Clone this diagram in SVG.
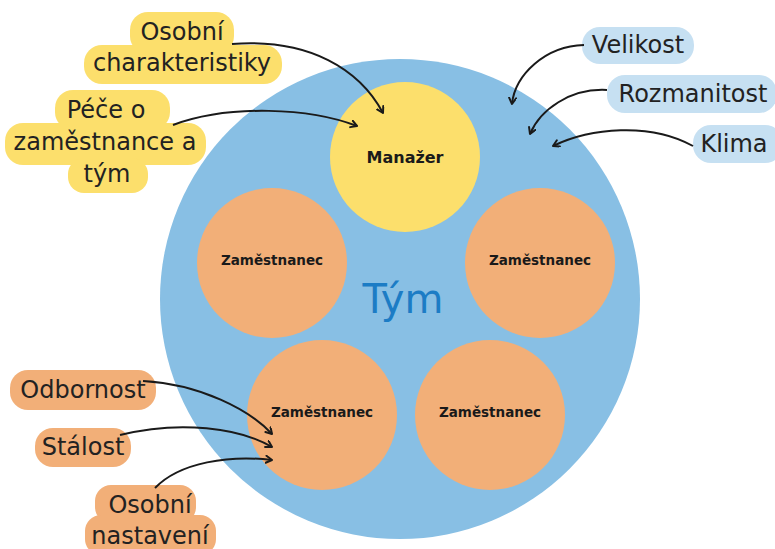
<svg xmlns="http://www.w3.org/2000/svg" width="775" height="549" viewBox="0 0 775 549">
<style>
.lbl{font-family:"DejaVu Sans",sans-serif;font-size:24px;fill:#222;text-anchor:middle}
.node{font-family:"DejaVu Sans",sans-serif;font-weight:bold;font-size:13.5px;fill:#1a1a1a;text-anchor:middle}
.big{font-size:16px}
.y{fill:#FCDF6C}
.o{fill:#F2AF78}
.b{fill:#C6E0F2}
.arr{fill:none;stroke:#1a1a1a;stroke-width:2;marker-end:url(#ah)}
</style>
<defs>
<marker id="ah" markerWidth="10" markerHeight="10" refX="7" refY="4" orient="auto" markerUnits="userSpaceOnUse">
<path d="M1,0.5 L7,4 L1,7.5" fill="none" stroke="#1a1a1a" stroke-width="2" stroke-linecap="round" stroke-linejoin="round"/>
</marker>
</defs>
<rect width="775" height="549" fill="#fff"/>
<g id="tym">
<circle cx="400" cy="299" r="240" fill="#88BFE4"/>
<text x="403" y="313" font-family="DejaVu Sans,sans-serif" font-size="40" fill="#1C7CC5" text-anchor="middle">Tým</text>
</g>
<g id="manazer">
<circle cx="405" cy="157" r="75" class="y"/>
<text x="405" y="163" class="node big">Manažer</text>
</g>
<g id="zam1">
<circle cx="272" cy="263" r="75" class="o"/>
<text x="272" y="265" class="node">Zaměstnanec</text>
</g>
<g id="zam2">
<circle cx="540" cy="263" r="75" class="o"/>
<text x="540" y="265" class="node">Zaměstnanec</text>
</g>
<g id="zam3">
<circle cx="322" cy="415" r="75" class="o"/>
<text x="322" y="417" class="node">Zaměstnanec</text>
</g>
<g id="zam4">
<circle cx="490" cy="415" r="75" class="o"/>
<text x="490" y="417" class="node">Zaměstnanec</text>
</g>
<g id="osobni-char">
<rect x="130" y="12" width="104" height="42" rx="18" class="y"/>
<rect x="84" y="45" width="198" height="39" rx="18" class="y"/>
<text x="182" y="40" class="lbl">Osobní</text>
<text x="182" y="71" class="lbl">charakteristiky</text>
</g>
<g id="pece">
<rect x="55" y="90" width="115" height="40" rx="18" class="y"/>
<rect x="5" y="123" width="201" height="42" rx="18" class="y"/>
<rect x="68" y="158" width="80" height="35" rx="16" class="y"/>
<text x="106" y="118" class="lbl">Péče o</text>
<text x="105" y="150" class="lbl">zaměstnance a</text>
<text x="107" y="182" class="lbl">tým</text>
</g>
<g id="velikost">
<rect x="582" y="27" width="112" height="37" rx="18" class="b"/>
<text x="638" y="53" class="lbl">Velikost</text>
</g>
<g id="rozmanitost">
<rect x="607" y="75" width="170" height="38" rx="18" class="b"/>
<text x="693" y="102" class="lbl">Rozmanitost</text>
</g>
<g id="klima">
<rect x="693" y="125" width="90" height="38" rx="18" class="b"/>
<text x="734" y="152" class="lbl">Klima</text>
</g>
<g id="odbornost">
<rect x="10" y="370" width="146" height="40" rx="18" class="o"/>
<text x="83" y="398" class="lbl">Odbornost</text>
</g>
<g id="stalost">
<rect x="35" y="428" width="96" height="39" rx="18" class="o"/>
<text x="83" y="455" class="lbl">Stálost</text>
</g>
<g id="osobni-nast">
<rect x="95" y="485" width="101" height="38" rx="16" class="o"/>
<rect x="85" y="515" width="131" height="40" rx="16" class="o"/>
<text x="150" y="513" class="lbl">Osobní</text>
<text x="150" y="544" class="lbl">nastavení</text>
</g>
<g id="connectors">
<path class="arr" d="M232,44 C310,38 360,70 383,113"/>
<path class="arr" d="M173,125 C230,104 310,108 357,126"/>
<path class="arr" d="M584,45 C545,46 515,75 512,104"/>
<path class="arr" d="M607,90 C570,88 540,110 530,134"/>
<path class="arr" d="M693,146 C650,122 590,128 553,146"/>
<path class="arr" d="M143,381 C200,384 250,410 272,434"/>
<path class="arr" d="M120,435 C180,420 240,428 272,447"/>
<path class="arr" d="M155,488 C180,462 230,455 272,460"/>
</g>
</svg>
